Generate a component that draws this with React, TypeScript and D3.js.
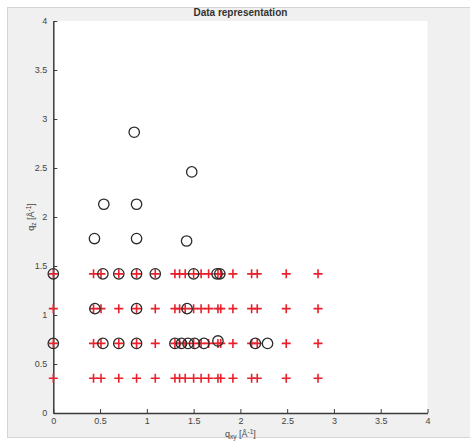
import React from "react";
import * as d3 from "d3";

// -- DATA --
// q_z rows of the lattice (red crosses)
const qzRows = [0.355, 0.71, 1.065, 1.42];
// q_xy positions of the crosses, same on every row
const qxyCrosses = [
  0, 0.43, 0.51, 0.7, 0.89, 1.09, 1.3, 1.35, 1.41, 1.5, 1.58, 1.66, 1.76, 1.79,
  1.92, 2.12, 2.18, 2.49, 2.83,
];
// measured peaks (black circles)
const peakQxy = [
  0, 0.53, 0.7, 0.89, 1.09, 1.5, 1.75, 1.78,
  0.445, 0.89, 1.43,
  0, 0.53, 0.7, 0.89, 1.3, 1.37, 1.44, 1.51, 1.61, 1.76, 2.16, 2.29,
  0.44, 0.89, 1.425, 0.54, 0.89, 1.48, 0.865,
];
const peakQz = [
  1.42, 1.42, 1.42, 1.42, 1.42, 1.42, 1.42, 1.42,
  1.065, 1.065, 1.065,
  0.71, 0.71, 0.71, 0.71, 0.71, 0.71, 0.71, 0.71, 0.71, 0.735, 0.71, 0.71,
  1.78, 1.78, 1.755, 2.13, 2.13, 2.46, 2.865,
];
const xTicks = [0, 0.5, 1, 1.5, 2, 2.5, 3, 3.5, 4];
const yTicks = [0, 0.5, 1, 1.5, 2, 2.5, 3, 3.5, 4];

const App = () => {
  const svgRef = React.useRef(null);
  const width = 470;
  const height = 441;
  const plot = { left: 53.3, right: 427.5, top: 21, bottom: 413 };

  React.useEffect(() => {
    const svg = d3.select(svgRef.current);
    svg.selectAll("*").remove();

    // figure background
    svg
      .append("rect")
      .attr("x", 7.5)
      .attr("y", 7.5)
      .attr("width", width - 7)
      .attr("height", 430)
      .style("fill", "#f0f0f0")
      .style("stroke", "#d4d4d4");

    const x = d3.scaleLinear().domain([0, 4]).range([plot.left, plot.right]);
    const y = d3.scaleLinear().domain([0, 4]).range([plot.bottom, plot.top]);

    // axes area
    svg
      .append("rect")
      .attr("x", plot.left)
      .attr("y", plot.top)
      .attr("width", plot.right - plot.left)
      .attr("height", plot.bottom - plot.top)
      .style("fill", "white");

    const font = "'Liberation Sans', Arial, sans-serif";

    // x axis, ticks pointing in
    const xAxis = svg
      .append("g")
      .attr("transform", `translate(0, ${plot.bottom})`)
      .call(
        d3
          .axisBottom(x)
          .tickValues(xTicks)
          .tickSizeInner(-4)
          .tickSizeOuter(0)
          .tickPadding(5)
          .tickFormat(d3.format("~g"))
      );
    // y axis
    const yAxis = svg
      .append("g")
      .attr("transform", `translate(${plot.left}, 0)`)
      .call(
        d3
          .axisLeft(y)
          .tickValues(yTicks)
          .tickSizeInner(-4)
          .tickSizeOuter(0)
          .tickPadding(6)
          .tickFormat(d3.format("~g"))
      );
    [xAxis, yAxis].forEach((a) => {
      a.select(".domain").style("stroke", "#3a3a3a").style("stroke-width", 1.5);
      a.selectAll(".tick line").style("stroke", "#3a3a3a").style("stroke-width", 1);
      a.selectAll(".tick text")
        .style("font-family", font)
        .style("font-size", "9px")
        .style("fill", "#444");
    });

    // red crosses
    const crosses = qzRows.flatMap((qz) => qxyCrosses.map((qxy) => ({ qxy, qz })));
    const s = 4.5;
    svg
      .append("g")
      .selectAll("path")
      .data(crosses)
      .enter()
      .append("path")
      .attr("transform", (d) => `translate(${x(d.qxy)},${y(d.qz)})`)
      .attr("d", `M${-s},0H${s}M0,${-s}V${s}`)
      .style("stroke", "#e8212b")
      .style("stroke-width", 1.6)
      .style("fill", "none");

    // black circles
    svg
      .append("g")
      .selectAll("circle")
      .data(peakQxy.map((qxy, i) => ({ qxy, qz: peakQz[i] })))
      .enter()
      .append("circle")
      .attr("cx", (d) => x(d.qxy))
      .attr("cy", (d) => y(d.qz))
      .attr("r", 5.2)
      .style("fill", "none")
      .style("stroke", "#2a2a2a")
      .style("stroke-width", 1.3);

    // title
    svg
      .append("text")
      .attr("x", (plot.left + plot.right) / 2)
      .attr("y", 16)
      .attr("text-anchor", "middle")
      .style("font-family", font)
      .style("font-weight", "bold")
      .style("font-size", "10px")
      .style("fill", "#333")
      .text("Data representation");

    // x label
    const xl = svg
      .append("text")
      .attr("x", (plot.left + plot.right) / 2)
      .attr("y", 437)
      .attr("text-anchor", "middle")
      .style("font-family", font)
      .style("font-size", "9px")
      .style("fill", "#444");
    xl.append("tspan").text("q");
    xl.append("tspan").attr("dy", 2).style("font-size", "6.5px").text("xy");
    xl.append("tspan").attr("dy", -2).text(" [Å");
    xl.append("tspan").attr("dy", -3).style("font-size", "6.5px").text("-1");
    xl.append("tspan").attr("dy", 3).text("]");

    // y label
    const yl = svg
      .append("text")
      .attr("transform", `translate(34, ${(plot.top + plot.bottom) / 2}) rotate(-90)`)
      .attr("text-anchor", "middle")
      .style("font-family", font)
      .style("font-size", "9px")
      .style("fill", "#444");
    yl.append("tspan").text("q");
    yl.append("tspan").attr("dy", 2).style("font-size", "6.5px").text("z");
    yl.append("tspan").attr("dy", -2).text(" [Å");
    yl.append("tspan").attr("dy", -3).style("font-size", "6.5px").text("-1");
    yl.append("tspan").attr("dy", 3).text("]");
  }, []);

  return (
    <div style={{ position: "absolute", left: 0, top: 0, background: "white" }}>
      <svg ref={svgRef} width={width} height={height} style={{ display: "block" }} />
    </div>
  );
};

export default App;
